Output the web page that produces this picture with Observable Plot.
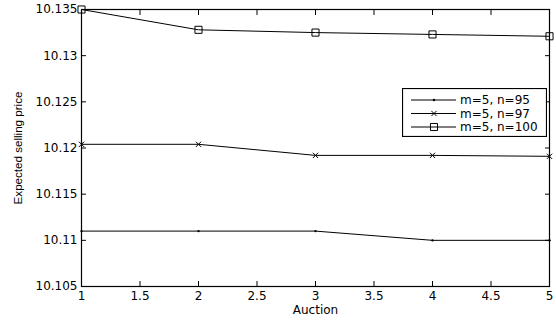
<!DOCTYPE html>
<html><head><meta charset="utf-8">
<script src="https://cdn.jsdelivr.net/npm/d3@7"></script>
<script src="https://cdn.jsdelivr.net/npm/@observablehq/plot@0.6"></script>
<style>
body{margin:0;background:#fff;}
#wrap{position:relative;width:556px;height:320px;overflow:hidden;}
#legend{position:absolute;left:402px;top:88px;}
</style></head><body><div id="wrap"></div>
<script>
const auctions = [1, 2, 3, 4, 5];
const seriesNames = ["m=5, n=95", "m=5, n=97", "m=5, n=100"];
const priceN95 = [10.111, 10.111, 10.111, 10.110, 10.110];
const priceN97 = [10.1204, 10.1204, 10.1192, 10.1192, 10.1191];
const priceN100 = [10.135, 10.1328, 10.1325, 10.1323, 10.1321];
const xTicks = [1, 1.5, 2, 2.5, 3, 3.5, 4, 4.5, 5];
const xTickLabels = ["1", "1.5", "2", "2.5", "3", "3.5", "4", "4.5", "5"];
const yTicks = [10.105, 10.11, 10.115, 10.12, 10.125, 10.13, 10.135];
const yTickLabels = ["10.105", "10.11", "10.115", "10.12", "10.125", "10.13", "10.135"];
const xTitle = "Auction";
const yTitle = "Expected selling price";

const seriesValues = [priceN95, priceN97, priceN100];
const rows = seriesNames.flatMap((s, i) => auctions.map((a, j) => ({series: s, auction: a, price: seriesValues[i][j]})));
const bySeries = (i) => rows.filter(d => d.series === seriesNames[i]);
const xFmt = (v) => xTickLabels[xTicks.indexOf(v)] ?? "";
const yFmt = (v) => { const k = yTicks.findIndex(t => Math.abs(t - v) < 1e-9); return k >= 0 ? yTickLabels[k] : ""; };
const blank = () => "";

const chart = Plot.plot({
  width: 556, height: 320,
  marginLeft: 81, marginRight: 7, marginTop: 9, marginBottom: 34,
  style: {fontFamily: "DejaVu Sans", fontSize: "12px", color: "black", background: "white", overflow: "visible"},
  x: {domain: [1, 5]},
  y: {domain: [10.105, 10.135]},
  marks: [
    Plot.axisX({ticks: xTicks, tickSize: 0, tickPadding: 5, tickFormat: xFmt, label: null}),
    Plot.axisX({ticks: xTicks, anchor: "bottom", tickSize: -5, tickFormat: blank, label: null}),
    Plot.axisX({ticks: xTicks, anchor: "top", tickSize: -5, tickFormat: blank, label: null}),
    Plot.axisY({ticks: yTicks, tickSize: 0, tickPadding: 4, tickFormat: yFmt, label: null}),
    Plot.axisY({ticks: yTicks, anchor: "left", tickSize: -5, tickFormat: blank, label: null}),
    Plot.axisY({ticks: yTicks, anchor: "right", tickSize: -5, tickFormat: blank, label: null}),
    Plot.frame({stroke: "black", strokeWidth: 1.2}),
    Plot.text([xTitle], {frameAnchor: "bottom", dy: 24, lineAnchor: "middle", textAnchor: "middle", fontFamily: "DejaVu Sans", fontSize: 12}),
    Plot.text([yTitle], {frameAnchor: "left", dx: -63, rotate: -90, lineAnchor: "middle", textAnchor: "middle", fontFamily: "Liberation Sans", fontSize: 11.6}),
    Plot.line(rows, {x: "auction", y: "price", z: "series", stroke: "black", strokeWidth: 1}),
    Plot.dot(bySeries(0), {x: "auction", y: "price", r: 1.2, fill: "black", stroke: "none"}),
    Plot.dot(bySeries(1), {x: "auction", y: "price", symbol: "times", r: 2.5, stroke: "black", strokeWidth: 1}),
    Plot.dot(bySeries(2), {x: "auction", y: "price", symbol: "square", r: 4, stroke: "black", fill: "none", strokeWidth: 1})
  ]
});
const wrap = document.getElementById("wrap");
wrap.appendChild(chart);

// legend
const lw = 145, lh = 49;
const leg = d3.select(wrap).append("svg").attr("id", "legend").attr("width", lw).attr("height", lh)
  .style("font-family", "DejaVu Sans").style("font-size", "12px");
leg.append("rect").attr("x", 0.5).attr("y", 0.5).attr("width", lw - 1).attr("height", lh - 1)
  .attr("fill", "white").attr("stroke", "black").attr("stroke-width", 1.2);
const rowY = [12, 25.5, 39];
const symbols = [null, d3.symbolTimes, d3.symbolSquare];
const symSize = [0, Math.PI * 2.5 * 2.5, Math.PI * 16];
seriesNames.forEach((name, i) => {
  const g = leg.append("g").attr("transform", `translate(0,${rowY[i]})`);
  g.append("line").attr("x1", 9).attr("x2", 54).attr("y1", 0).attr("y2", 0).attr("stroke", "black");
  if (i === 0) g.append("circle").attr("cx", 32).attr("cy", 0).attr("r", 1.2).attr("fill", "black");
  else g.append("path").attr("transform", "translate(32,0)").attr("d", d3.symbol(symbols[i], symSize[i])())
    .attr("fill", "none").attr("stroke", "black");
  g.append("text").attr("x", 58).attr("y", 0).attr("dy", "0.35em").text(name);
});
</script></body></html>
